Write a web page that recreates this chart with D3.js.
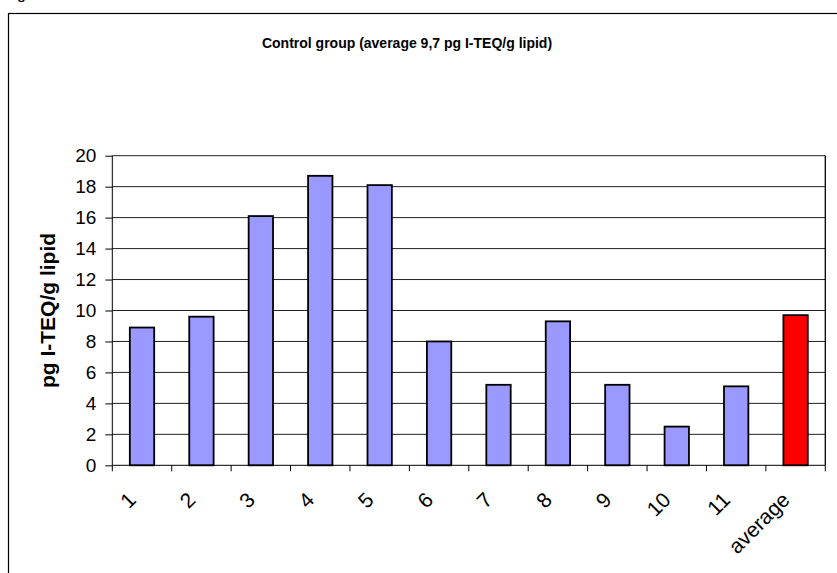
<!DOCTYPE html>
<html>
<head>
<meta charset="utf-8">
<script src="https://cdn.jsdelivr.net/npm/d3@7"></script>
<style>
  html, body { margin: 0; padding: 0; background: #fff; }
  svg { display: block; }
  text { font-family: Arial, "Liberation Sans", sans-serif; }
</style>
</head>
<body>
<svg id="chart" width="837" height="573"></svg>
<script>
const categories = ["1","2","3","4","5","6","7","8","9","10","11","average"];
const values = [8.9, 9.6, 16.1, 18.7, 18.1, 8.0, 5.2, 9.3, 5.2, 2.5, 5.1, 9.7];
const yTicks = [0,2,4,6,8,10,12,14,16,18,20];
const title = "Control group (average 9,7 pg I-TEQ/g lipid)";
const yTitle = "pg I-TEQ/g lipid";

const svg = d3.select("#chart");
const pLeft = 112.3, pRight = 825.3, pTop = 155.7, pBottom = 465.3;

// partial text above frame
svg.append("text").attr("x", 17).attr("y", -1).attr("font-size", 16).text("g");

// outer frame
svg.append("rect").attr("x", 8.5).attr("y", 13.5).attr("width", 840).attr("height", 570)
  .attr("fill", "none").attr("stroke", "#000").attr("stroke-width", 1.2);

const x = d3.scaleBand().domain(categories).range([pLeft, pRight]).paddingInner(0.59).paddingOuter(0.295);
const xb = d3.scaleBand().domain(categories).range([pLeft, pRight]);
const y = d3.scaleLinear().domain([0, 20]).range([pBottom, pTop]);

// gridlines
svg.append("g").selectAll("line").data(yTicks.filter(d => d > 0)).join("line")
  .attr("x1", pLeft).attr("x2", pRight)
  .attr("y1", d => y(d)).attr("y2", d => y(d))
  .attr("stroke", "#222").attr("stroke-width", 1);

// right border of plot
svg.append("line").attr("x1", pRight).attr("x2", pRight).attr("y1", pTop).attr("y2", pBottom)
  .attr("stroke", "#000").attr("stroke-width", 1.3);

// bars
svg.append("g").selectAll("rect").data(values).join("rect")
  .attr("x", (d, i) => x(categories[i]))
  .attr("width", x.bandwidth())
  .attr("y", d => y(d))
  .attr("height", d => y(0) - y(d))
  .attr("fill", (d, i) => categories[i] === "average" ? "#FF0000" : "#9999FF")
  .attr("stroke", "#000").attr("stroke-width", 1.8);

// y axis
const yAxis = d3.axisLeft(y).tickValues(yTicks).tickSize(7).tickPadding(9);
const gy = svg.append("g").attr("transform", `translate(${pLeft},0)`).call(yAxis);
gy.select(".domain").attr("stroke", "#000").attr("d", `M0,${pTop}V${pBottom}`);
gy.selectAll(".tick line").attr("stroke", "#000");
gy.selectAll(".tick text").attr("font-size", 19).attr("fill", "#000")
  .attr("font-family", "Arial, 'Liberation Sans', sans-serif");

// x axis
const xAxis = d3.axisBottom(xb).tickSize(0).tickFormat("");
const gx = svg.append("g").attr("transform", `translate(0,${pBottom})`).call(xAxis);
gx.select(".domain").attr("stroke", "#000").attr("d", `M${pLeft},0H${pRight}`);
gx.selectAll(".tick").remove();
const boundaries = categories.map(c => xb(c)).concat([pRight]);
gx.selectAll("line.bt").data(boundaries).join("line").attr("class", "bt")
  .attr("x1", d => d).attr("x2", d => d).attr("y1", 0).attr("y2", 6)
  .attr("stroke", "#000");

// x labels rotated
svg.append("g").selectAll("text").data(categories).join("text")
  .attr("transform", d => `translate(${xb(d) + xb.bandwidth() / 2 - 10},496) rotate(-45)`)
  .attr("text-anchor", "end")
  .attr("dominant-baseline", "central")
  .attr("font-size", 21)
  .text(d => d);

// y title
svg.append("text")
  .attr("transform", `translate(47.5,${(pTop + pBottom) / 2}) rotate(-90)`)
  .attr("text-anchor", "middle").attr("dominant-baseline", "central")
  .attr("font-size", 21).attr("font-weight", "bold")
  .text(yTitle);

// chart title
svg.append("text").attr("x", 407).attr("y", 48.3)
  .attr("text-anchor", "middle").attr("font-size", 14).attr("font-weight", "bold")
  .text(title);
</script>
</body>
</html>
